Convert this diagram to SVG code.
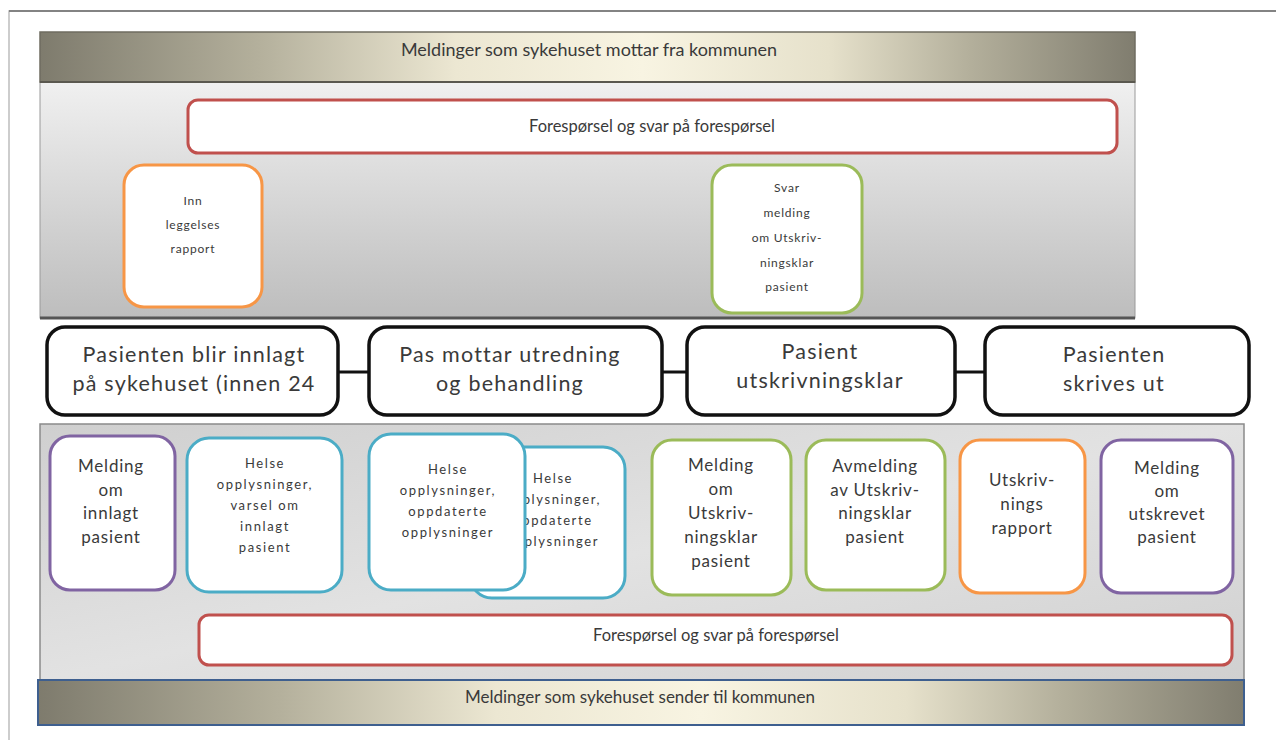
<svg xmlns="http://www.w3.org/2000/svg" width="1276" height="747" viewBox="0 0 1276 747">
<defs>
<linearGradient id="band" x1="0" y1="0" x2="1" y2="0">
<stop offset="0" stop-color="#7e7b6d"/>
<stop offset="0.2" stop-color="#b4b09c"/>
<stop offset="0.38" stop-color="#ece7d2"/>
<stop offset="0.55" stop-color="#f8f4e2"/>
<stop offset="0.72" stop-color="#e6e1cb"/>
<stop offset="0.85" stop-color="#b3af9b"/>
<stop offset="1" stop-color="#807d6f"/>
</linearGradient>
<linearGradient id="panelTop" x1="0" y1="0" x2="0" y2="1">
<stop offset="0" stop-color="#f0f0f0"/>
<stop offset="1" stop-color="#bdbdbd"/>
</linearGradient>
<linearGradient id="panelBot" x1="0" y1="0" x2="1" y2="1">
<stop offset="0" stop-color="#cfcfcf"/>
<stop offset="0.5" stop-color="#e2e2e2"/>
<stop offset="1" stop-color="#d0d0d0"/>
</linearGradient>
<style>
text{font-family:Lato,"Open Sans","Liberation Sans",sans-serif;fill:#3a3a3a;text-anchor:middle}
.hd{font-size:17px}
.hd2{font-size:18px}
.big{font-size:21.5px;letter-spacing:1.2px}
.req{font-size:16.5px}
.md{font-size:17px;letter-spacing:0.8px}
.sm{font-size:12px;letter-spacing:0.8px}
.sb{font-size:13px;letter-spacing:1.6px}
.box{fill:#ffffff;stroke-width:3}
.step{fill:#ffffff;stroke:#111;stroke-width:3.5}
.red{fill:#ffffff;stroke:#c0504d;stroke-width:3}
.or{stroke:#f79646}
.gr{stroke:#9bbb59}
.pu{stroke:#8064a2}
.bl{stroke:#4bacc6}
.conn{stroke:#111;stroke-width:3}
</style>
</defs>
<rect x="0" y="0" width="1276" height="747" fill="#ffffff"/>
<path d="M9 740 V11 H1276" fill="none" stroke="#bdbdbd" stroke-width="1.5"/>
<line x1="9" y1="11" x2="1276" y2="11" stroke="#6a6a6a" stroke-width="1.5"/>

<g id="upper-panel">
<rect x="40" y="82" width="1095" height="236" fill="url(#panelTop)" stroke="#9a9a9a" stroke-width="1"/>
<line x1="40" y1="318" x2="1135" y2="318" stroke="#555" stroke-width="3"/>
</g>
<g id="header-top">
<rect x="40" y="32" width="1095" height="50" fill="url(#band)" stroke="#6f6c60" stroke-width="1.5"/>
<line x1="40" y1="82" x2="1135" y2="82" stroke="#5a584f" stroke-width="2"/>
<text class="hd2" x="589" y="56">Meldinger som sykehuset mottar fra kommunen</text>
</g>
<g id="req-top">
<rect class="red" x="188" y="100" width="929" height="53" rx="10"/>
<text class="req" x="652" y="132">Forespørsel og svar på forespørsel</text>
</g>
<g id="innleggelses">
<rect class="box or" x="124" y="165" width="138" height="142" rx="20"/>
<text class="sm" x="193" y="205">Inn</text>
<text class="sm" x="193" y="229">leggelses</text>
<text class="sm" x="193" y="253">rapport</text>
</g>
<g id="svarmelding">
<rect class="box gr" x="712" y="165" width="150" height="148" rx="20"/>
<text class="sm" x="787" y="192">Svar</text>
<text class="sm" x="787" y="217">melding</text>
<text class="sm" x="787" y="242">om Utskriv-</text>
<text class="sm" x="787" y="267">ningsklar</text>
<text class="sm" x="787" y="291">pasient</text>
</g>

<g id="connectors">
<line class="conn" x1="338" y1="372" x2="369" y2="372"/>
<line class="conn" x1="662" y1="372" x2="687" y2="372"/>
<line class="conn" x1="955" y1="372" x2="985" y2="372"/>
</g>
<g id="step1">
<rect class="step" x="47" y="327" width="291" height="88" rx="18"/>
<text class="big" x="194" y="362">Pasienten blir innlagt</text>
<text class="big" x="194" y="391">på sykehuset (innen 24</text>
</g>
<g id="step2">
<rect class="step" x="369" y="327" width="293" height="88" rx="18"/>
<text class="big" x="510" y="362">Pas mottar utredning</text>
<text class="big" x="510" y="391">og behandling</text>
</g>
<g id="step3">
<rect class="step" x="687" y="327" width="268" height="88" rx="18"/>
<text class="big" x="820" y="359">Pasient</text>
<text class="big" x="820" y="388">utskrivningsklar</text>
</g>
<g id="step4">
<rect class="step" x="985" y="327" width="264" height="88" rx="18"/>
<text class="big" x="1114" y="362">Pasienten</text>
<text class="big" x="1114" y="391">skrives ut</text>
</g>

<g id="lower-panel">
<rect x="40" y="424" width="1204" height="256" fill="url(#panelBot)" stroke="#8a8a8a" stroke-width="1.5"/>
</g>
<g id="melding-innlagt">
<rect class="box pu" x="50" y="436" width="125" height="154" rx="20"/>
<text class="md" x="111" y="472">Melding</text>
<text class="md" x="111" y="496">om</text>
<text class="md" x="111" y="519">innlagt</text>
<text class="md" x="111" y="543">pasient</text>
</g>
<g id="helse-varsel">
<rect class="box bl" x="187" y="438" width="155" height="154" rx="22"/>
<text class="sb" x="265" y="468">Helse</text>
<text class="sb" x="265" y="489">opplysninger,</text>
<text class="sb" x="265" y="510">varsel om</text>
<text class="sb" x="265" y="531">innlagt</text>
<text class="sb" x="265" y="552">pasient</text>
</g>
<g id="helse-oppdaterte-back">
<rect class="box bl" x="470" y="447" width="155" height="151" rx="22"/>
<text class="sb" x="553" y="483">Helse</text>
<text class="sb" x="553" y="504">opplysninger,</text>
<text class="sb" x="553" y="525">oppdaterte</text>
<text class="sb" x="553" y="546">opplysninger</text>
</g>
<g id="helse-oppdaterte-front">
<rect class="box bl" x="369" y="434" width="156" height="156" rx="22"/>
<text class="sb" x="448" y="474">Helse</text>
<text class="sb" x="448" y="495">opplysninger,</text>
<text class="sb" x="448" y="516">oppdaterte</text>
<text class="sb" x="448" y="537">opplysninger</text>
</g>
<g id="melding-utskrivningsklar">
<rect class="box gr" x="652" y="440" width="139" height="155" rx="20"/>
<text class="md" x="721" y="471">Melding</text>
<text class="md" x="721" y="495">om</text>
<text class="md" x="721" y="519">Utskriv-</text>
<text class="md" x="721" y="543">ningsklar</text>
<text class="md" x="721" y="567">pasient</text>
</g>
<g id="avmelding">
<rect class="box gr" x="806" y="440" width="139" height="150" rx="20"/>
<text class="md" x="875" y="472">Avmelding</text>
<text class="md" x="875" y="496">av Utskriv-</text>
<text class="md" x="875" y="519">ningsklar</text>
<text class="md" x="875" y="543">pasient</text>
</g>
<g id="utskrivningsrapport">
<rect class="box or" x="960" y="440" width="125" height="153" rx="20"/>
<text class="md" x="1022" y="486">Utskriv-</text>
<text class="md" x="1022" y="510">nings</text>
<text class="md" x="1022" y="534">rapport</text>
</g>
<g id="melding-utskrevet">
<rect class="box pu" x="1101" y="440" width="132" height="153" rx="20"/>
<text class="md" x="1167" y="474">Melding</text>
<text class="md" x="1167" y="497">om</text>
<text class="md" x="1167" y="520">utskrevet</text>
<text class="md" x="1167" y="543">pasient</text>
</g>
<g id="req-bottom">
<rect class="red" x="199" y="615" width="1033" height="50" rx="10"/>
<text class="req" x="716" y="641">Forespørsel og svar på forespørsel</text>
</g>
<g id="header-bottom">
<rect x="38" y="680" width="1206" height="45" fill="url(#band)" stroke="#3e5f8f" stroke-width="2"/>
<text class="hd" x="640" y="703">Meldinger som sykehuset sender til kommunen</text>
</g>
</svg>
